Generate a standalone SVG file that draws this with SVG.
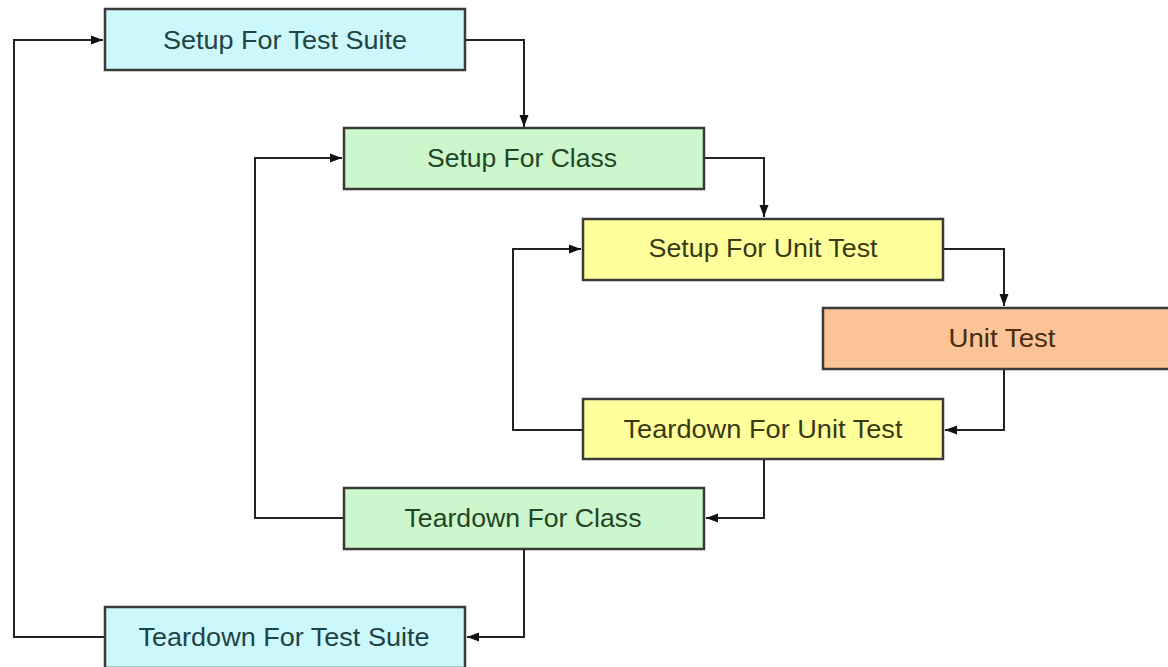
<svg xmlns="http://www.w3.org/2000/svg" width="1168" height="667" viewBox="0 0 1168 667">
<defs>
<marker id="arr" viewBox="0 0 12 10" refX="12" refY="5" markerWidth="12" markerHeight="10" markerUnits="userSpaceOnUse" orient="auto">
<path d="M0,0.5 L12,5 L0,9.5 Z" fill="#111"/>
</marker>
<style>
.box{stroke:#3a3a36;stroke-width:2.5}
.suite{fill:#ccf8fc}
.cls{fill:#ccf6cc}
.unit{fill:#ffff9c}
.test{fill:#fbc497}
.lbl{font-family:"Liberation Sans",Arial,sans-serif;font-size:26px;text-anchor:middle;dominant-baseline:central}
.ts{fill:#1e4444}
.tc{fill:#234523}
.tu{fill:#3a3a12}
.tt{fill:#4a2c12}
.c{fill:none;stroke:#222;stroke-width:2}
</style>
</defs>
<rect width="1168" height="667" fill="#fff"/>
<g id="connectors">
<path class="c" d="M105,637 H14 V40 H103" marker-end="url(#arr)"/>
<path class="c" d="M465,40 H524 V127" marker-end="url(#arr)"/>
<path class="c" d="M344,518 H255 V158 H342" marker-end="url(#arr)"/>
<path class="c" d="M704,158 H764 V217" marker-end="url(#arr)"/>
<path class="c" d="M583,430 H513 V249 H581" marker-end="url(#arr)"/>
<path class="c" d="M943,249 H1004 V306" marker-end="url(#arr)"/>
<path class="c" d="M1004,369 V430 H945" marker-end="url(#arr)"/>
<path class="c" d="M764,460 V518 H706" marker-end="url(#arr)"/>
<path class="c" d="M524,549 V637 H467" marker-end="url(#arr)"/>
</g>
<g id="setup-suite"><rect class="box suite" x="105" y="9" width="360" height="61"/><text class="lbl ts" x="285" y="40" textLength="244" lengthAdjust="spacingAndGlyphs">Setup For Test Suite</text></g>
<g id="setup-class"><rect class="box cls" x="344" y="128" width="360" height="61"/><text class="lbl tc" x="522" y="158" textLength="190" lengthAdjust="spacingAndGlyphs">Setup For Class</text></g>
<g id="setup-unit"><rect class="box unit" x="583" y="219" width="360" height="61"/><text class="lbl tu" x="763" y="248" textLength="229" lengthAdjust="spacingAndGlyphs">Setup For Unit Test</text></g>
<g id="unit-test"><rect class="box test" x="823" y="308" width="360" height="61"/><text class="lbl tt" x="1002" y="338" textLength="107" lengthAdjust="spacingAndGlyphs">Unit Test</text></g>
<g id="teardown-unit"><rect class="box unit" x="583" y="399" width="360" height="60"/><text class="lbl tu" x="763" y="429" textLength="279" lengthAdjust="spacingAndGlyphs">Teardown For Unit Test</text></g>
<g id="teardown-class"><rect class="box cls" x="344" y="488" width="360" height="61"/><text class="lbl tc" x="523" y="518" textLength="237" lengthAdjust="spacingAndGlyphs">Teardown For Class</text></g>
<g id="teardown-suite"><rect class="box suite" x="105" y="607" width="360" height="61"/><text class="lbl ts" x="284" y="637" textLength="291" lengthAdjust="spacingAndGlyphs">Teardown For Test Suite</text></g>
</svg>
